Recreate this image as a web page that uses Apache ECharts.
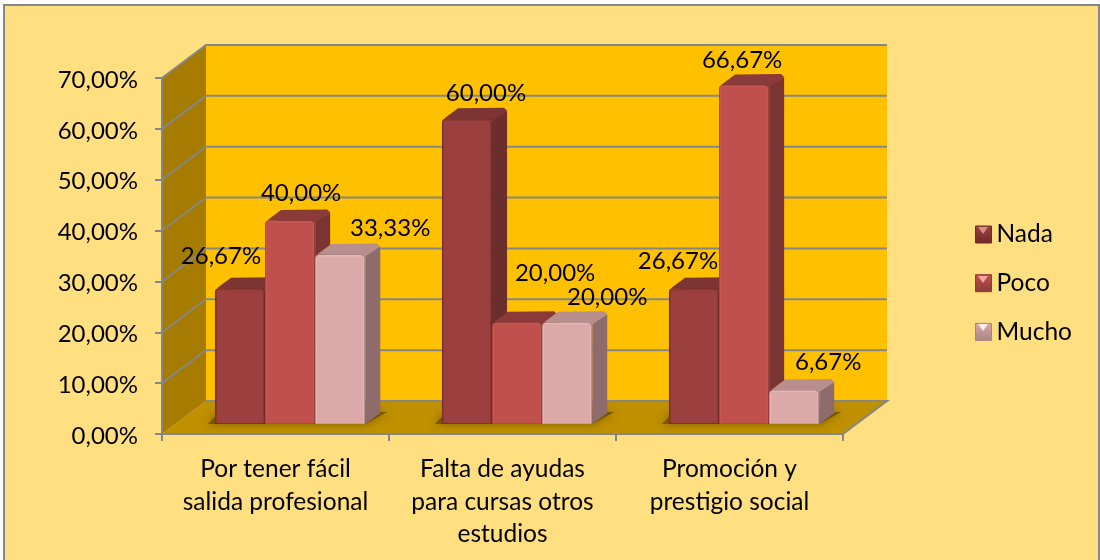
<!DOCTYPE html>
<html>
<head>
<meta charset="utf-8">
<style>html,body{margin:0;padding:0;background:#fff}#c{width:1100px;height:560px}</style>
<script src="https://cdn.jsdelivr.net/npm/echarts@6/dist/echarts.min.js"></script>
</head>
<body>
<div id="c"></div>
<script>
var categories = ['Por tener fácil\nsalida profesional', 'Falta de ayudas\npara cursas otros\nestudios', 'Promoción y\nprestigio social'];
var nada = [26.67, 60.00, 26.67];
var poco = [40.00, 20.00, 66.67];
var mucho = [33.33, 20.00, 6.67];
var yTicks = [0, 10, 20, 30, 40, 50, 60, 70];

// label nudges (px, relative to bar top centre)
var nudgeNada = [[-19, -32], [19, -26], [-16, -27]];
var nudgePoco = [[11, -27], [38, -49], [-2, -25]];
var nudgeMucho = [[50, -26], [40, -25], [34, -28]];

var FONT = 'Lato';
var GRID = '#868686';
var DEPTH = [44, -33];     // chart depth
var FRONT = [14.6, -10];   // gap between front plane and bar front
var BAR = [15, -11];       // bar depth
var BAR_FRAC = 0.2207;

var styles = [
  {front: '#9B403E', top: '#7D3533', side: '#6B2E2D', edge: '#8A3735', hi: '#D58F8D', lo: '#702A28'},
  {front: '#C0504D', top: '#8A3A38', side: '#7C3432', edge: '#C95653', hi: '#F4A3A0', lo: '#8E3A38'},
  {front: '#DAA9A8', top: '#B98F8E', side: '#8E6C6C', edge: '#E5B6B5', hi: '#FBEDED', lo: '#A88483'}
];

function fmt(v) { return v.toFixed(2).replace('.', ',') + '%'; }

function renderWalls(params, api) {
  var band = api.size([1, 0])[0];
  var x0 = api.coord([0, 0])[0] - band / 2;
  var x1 = x0 + band * categories.length;
  var yb = api.coord([0, 0])[1];
  var yt = api.coord([0, yTicks[yTicks.length - 1]])[1];
  var y = api.coord([0, api.value(0)])[1];
  var dx = DEPTH[0], dy = DEPTH[1];
  var kids = [];
  if (params.dataIndex === 0) {
    kids.push({type: 'polygon', shape: {points: [[x0 + dx, yt + dy], [x1 + dx, yt + dy], [x1 + dx, yb + dy], [x0 + dx, yb + dy]]}, style: {fill: '#FFC000'}});
    kids.push({type: 'polygon', shape: {points: [[x0, yb], [x0 + dx, yb + dy], [x0 + dx, yt + dy], [x0, yt]]}, style: {fill: '#A67C00'}});
    kids.push({type: 'polygon', shape: {points: [[x0, yb], [x1, yb], [x1 + dx, yb + dy], [x0 + dx, yb + dy]]}, style: {fill: '#BF9000'}});
    kids.push({type: 'polyline', shape: {points: [[x0 + dx, yb + dy], [x1 + dx, yb + dy], [x1, yb]]}, style: {stroke: GRID, lineWidth: 2, fill: 'none'}});
  } else {
    kids.push({type: 'polyline', shape: {points: [[x0, y], [x0 + dx, y + dy], [x1 + dx, y + dy]]}, style: {stroke: GRID, lineWidth: 2, fill: 'none'}});
  }
  return {type: 'group', children: kids};
}

function renderShadow(params, api) {
  var band = api.size([1, 0])[0];
  var w = band * BAR_FRAC;
  var c = api.coord([api.value(0), 0]);
  var base = c[1] + FRONT[1];
  var L = c[0] + FRONT[0] - 1.5 * w;
  var R = c[0] + FRONT[0] + 1.5 * w;
  return {type: 'polygon', shape: {points: [[L - 7, base], [R, base], [R + 22, base - 12], [L + 5, base - 12]]},
    style: {fill: 'rgba(105,76,0,0.8)', shadowBlur: 9, shadowColor: 'rgba(105,76,0,0.9)'}};
}

function makeBarRenderer(idx, nudges) {
  return function (params, api) {
    var s = styles[idx];
    var cat = api.value(0), val = api.value(1);
    var band = api.size([1, 0])[0];
    var w = band * BAR_FRAC;
    var b = api.coord([cat, 0]);
    var t = api.coord([cat, val]);
    var cx = b[0] + FRONT[0] + (idx - 1) * w;
    var yb = b[1] + FRONT[1], yt = t[1] + FRONT[1];
    var l = cx - w / 2, r = cx + w / 2;
    var dx = BAR[0], dy = BAR[1];
    var n = nudges[params.dataIndex];
    return {type: 'group', children: [
      {type: 'polygon', shape: {points: [[r, yb], [r + dx, yb + dy], [r + dx, yt + dy + 3], [r, yt + 1]]}, style: {fill: s.side}},
      {type: 'polygon', shape: {points: [[l + 2, yt], [l + dx + 1, yt + dy + 0.5], [r + dx - 3, yt + dy], [r + dx, yt + dy + 3], [r, yt + 2]]}, style: {fill: s.top}},
      {type: 'rect', shape: {x: l, y: yt, width: w, height: yb - yt, r: [4, 4, 0, 0]}, style: {fill: s.lo}},
      {type: 'rect', shape: {x: l + 0.5, y: yt + 0.5, width: w - 1.5, height: yb - yt - 1, r: [4, 4, 0, 0]}, style: {fill: s.edge}},
      {type: 'rect', shape: {x: l + 2, y: yt + 2, width: w - 4, height: yb - yt - 3, r: 1}, style: {fill: s.front}},
      {type: 'text', x: cx + n[0], y: yt + n[1], style: {text: fmt(val), fill: '#000', font: '24px ' + FONT, align: 'center', verticalAlign: 'middle'}}
    ]};
  };
}

function pairs(arr) { return arr.map(function (v, i) { return [i, v]; }); }

function legendItem(name, idx) {
  var s = styles[idx];
  return {name: name, icon: 'rect', itemStyle: {
    color: new echarts.graphic.LinearGradient(0, 0, 0, 1, [
      {offset: 0, color: s.front}, {offset: 1, color: s.lo}
    ]), borderColor: s.lo, borderWidth: 1}};
}

function swatchGlint(idx, top) {
  return {type: 'polygon', z: 200, silent: true,
    shape: {points: [[978, top + 2], [988, top + 2], [983, top + 9]]},
    style: {fill: styles[idx].hi}};
}

function barSeries(name, idx, arr, nudges) {
  return {type: 'custom', name: name, z: 5 + idx, animation: false, clip: false, silent: true,
    renderItem: makeBarRenderer(idx, nudges), data: pairs(arr), encode: {x: 0, y: 1},
    itemStyle: {color: styles[idx].front}};
}

var chart = echarts.init(document.getElementById('c'), null, {renderer: 'canvas'});
chart.setOption({
  backgroundColor: '#FFFFFF',
  animation: false,
  textStyle: {fontFamily: FONT},
  graphic: [
    {type: 'rect', z: -100, silent: true, shape: {x: 4, y: 5, width: 1095, height: 560},
      style: {fill: '#FFDF80', stroke: GRID, lineWidth: 2}},
    swatchGlint(0, 225), swatchGlint(1, 274), swatchGlint(2, 322)
  ],
  grid: {left: 162, right: 257, top: 78, bottom: 126, containLabel: false},
  legend: {
    orient: 'vertical', left: 970, top: 214, itemWidth: 16, itemHeight: 17, itemGap: 17.7,
    selectedMode: false,
    textStyle: {fontFamily: FONT, fontSize: 24.5, color: '#000', lineHeight: 31},
    data: [legendItem('Nada', 0), legendItem('Poco', 1), legendItem('Mucho', 2)]
  },
  xAxis: {
    type: 'category', data: categories, z: 10,
    axisLine: {show: true, lineStyle: {color: GRID, width: 2}},
    axisTick: {show: true, length: 7, lineStyle: {color: GRID, width: 2}, alignWithLabel: false},
    axisLabel: {interval: 0, fontFamily: FONT, fontSize: 24.5, color: '#000', lineHeight: 32.5, margin: 19},
    splitLine: {show: false}
  },
  yAxis: {
    type: 'value', min: 0, max: 70, interval: 10, z: 10,
    axisLine: {show: true, lineStyle: {color: GRID, width: 2}},
    axisTick: {show: true, length: 7, lineStyle: {color: GRID, width: 2}},
    axisLabel: {formatter: fmt, fontFamily: FONT, fontSize: 24, color: '#000', margin: 24, verticalAlign: 'top', lineHeight: 4},
    splitLine: {show: false}
  },
  series: [
    {type: 'custom', name: 'walls', z: 1, animation: false, silent: true, clip: false,
      renderItem: renderWalls, data: yTicks.map(function (v) { return [v]; }), encode: {y: 0}},
    {type: 'custom', name: 'shadow', z: 2, animation: false, silent: true, clip: false,
      renderItem: renderShadow, data: categories.map(function (c, i) { return [i]; }), encode: {x: 0}},
    barSeries('Nada', 0, nada, nudgeNada),
    barSeries('Poco', 1, poco, nudgePoco),
    barSeries('Mucho', 2, mucho, nudgeMucho)
  ]
});
</script>
</body>
</html>
